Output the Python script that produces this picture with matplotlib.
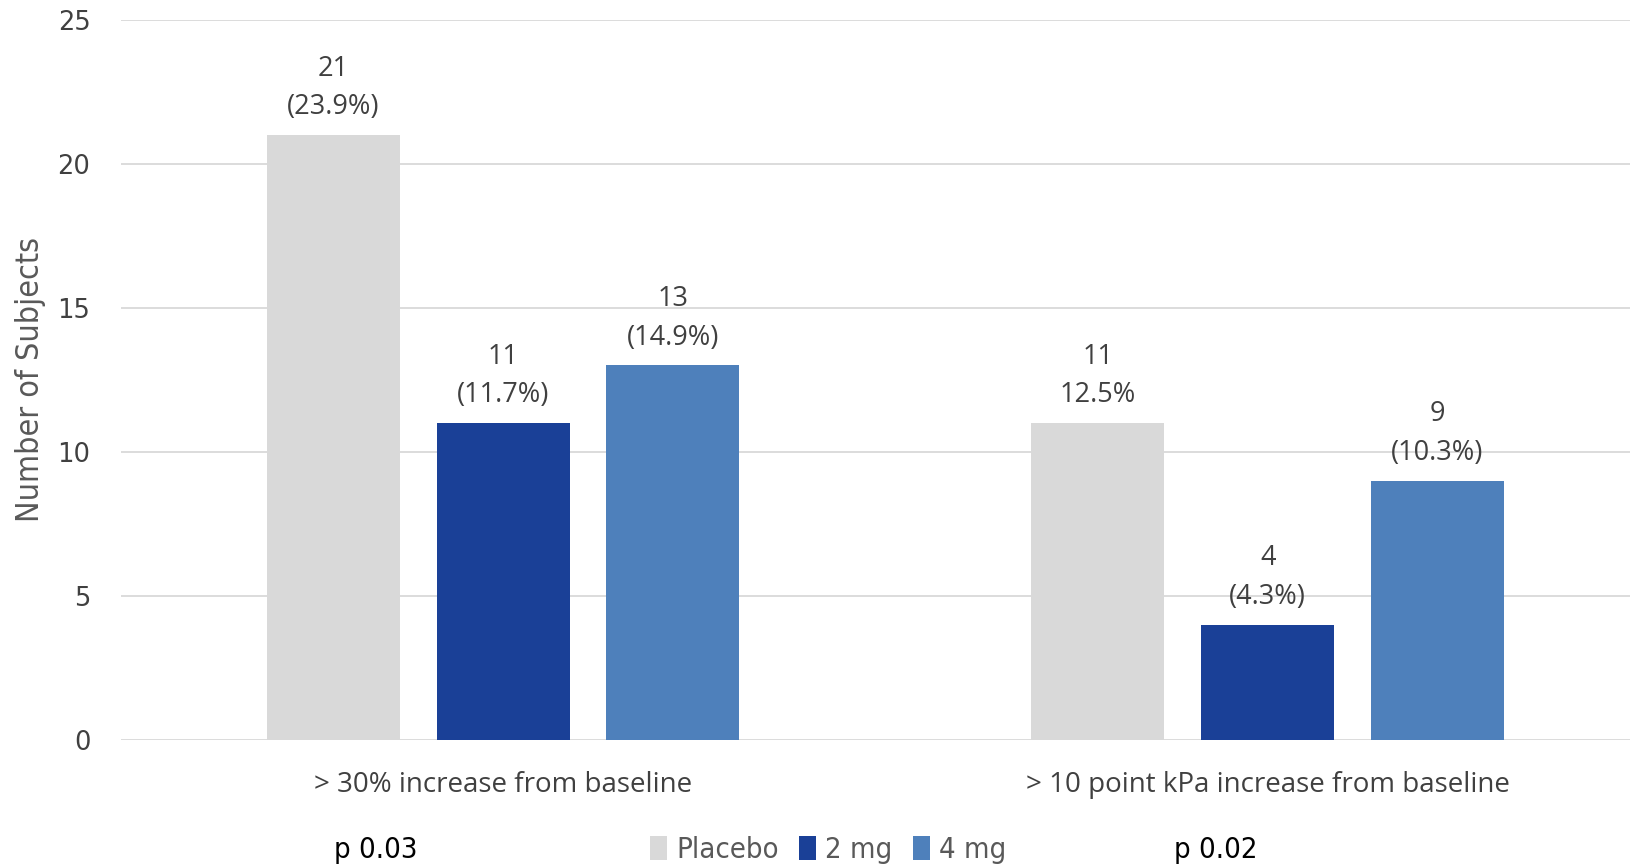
#!/usr/bin/env python3
"""
Grouped bar chart: subjects with an increase from baseline, by dose.
"""
import matplotlib.pyplot as plt
from matplotlib.patches import Patch

categories = ["> 30% increase from baseline", "> 10 point kPa increase from baseline"]
groups = ["Placebo", "2 mg", "4 mg"]
placebo = [21, 11]
dose_2mg = [11, 4]
dose_4mg = [13, 9]
pct_labels = [
    ["(23.9%)", "12.5%"],
    ["(11.7%)", "(4.3%)"],
    ["(14.9%)", "(10.3%)"],
]
p_values = ["p 0.03", "p 0.02"]

colors = ["#D9D9D9", "#1A4097", "#4E80BB"]
text_color = "#404040"
narrow = {"family": "DejaVu Sans", "stretch": "condensed"}


def main() -> None:
    fig = plt.figure(figsize=(16.3, 8.68), dpi=100)
    ax = fig.add_axes([0.0742, 0.1475, 0.938, 0.8298])

    series = [placebo, dose_2mg, dose_4mg]
    width = 0.174
    step = 0.222
    xs = range(len(categories))
    for i, (vals, color) in enumerate(zip(series, colors)):
        pos = [x + (i - 1) * step for x in xs]
        bars = ax.bar(pos, vals, width=width, color=color, zorder=2)
        for bar, v, pct in zip(bars, vals, pct_labels[i]):
            ax.annotate(
                f"{v}\n{pct}",
                xy=(bar.get_x() + bar.get_width() / 2, v),
                xytext=(0, 10),
                textcoords="offset points",
                ha="center",
                va="bottom",
                fontsize=19.5,
                family="Open Sans",
                color=text_color,
                linespacing=1.5,
            )

    ax.set_xlim(-0.5, 1.5)
    ax.set_ylim(0, 25)
    ax.set_yticks(range(0, 26, 5))
    ax.set_xticks(list(xs))
    ax.set_xticklabels(categories, fontsize=20, family="Open Sans", color=text_color)
    ax.tick_params(axis="y", length=0, pad=22, labelsize=18.5, labelcolor=text_color)
    ax.tick_params(axis="x", length=0, pad=22)
    ax.grid(axis="y", color="#D9D9D9", linewidth=1.3, zorder=0)
    for spine in ax.spines.values():
        spine.set_visible(False)
    ax.set_ylabel("Number of Subjects", fontsize=23, color="#595959", labelpad=8, **narrow)

    for txt, fx in zip(p_values, [0.2307, 0.746]):
        fig.text(fx, 0.0207, txt, ha="center", va="center", fontsize=21,
                 color="black", **narrow)

    handles = [Patch(facecolor=c, edgecolor="none") for c in colors]
    fig.legend(
        handles,
        groups,
        loc="center",
        bbox_to_anchor=(0.508, 0.0207),
        ncol=3,
        frameon=False,
        prop={"size": 21, **narrow},
        labelcolor="#595959",
        handlelength=0.6,
        handleheight=0.9,
        handletextpad=0.3,
        columnspacing=0.7,
    )

    fig.savefig("out.png", dpi=100)
    plt.close(fig)


if __name__ == "__main__":
    main()
